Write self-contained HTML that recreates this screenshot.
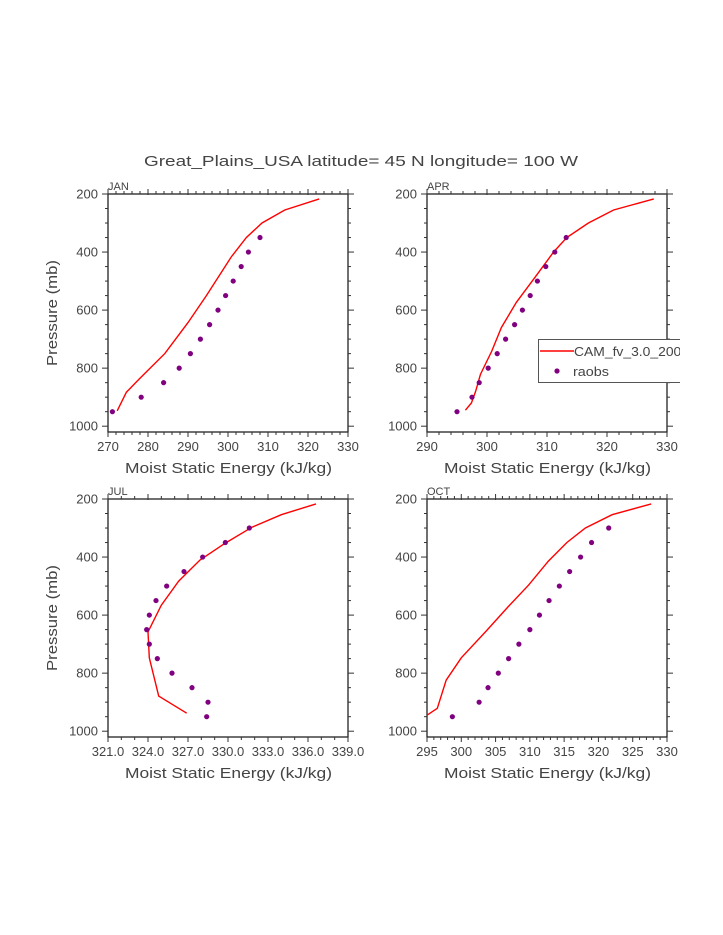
<!DOCTYPE html>
<html><head><meta charset="utf-8"><style>
html,body{margin:0;padding:0;background:#fff;}
svg{display:block;font-family:"Liberation Sans",sans-serif;}
</style></head><body>
<svg id="chart" width="723" height="935" viewBox="0 0 723 935" xmlns="http://www.w3.org/2000/svg">
<text x="144" y="166" font-size="15" fill="#444" textLength="434" lengthAdjust="spacingAndGlyphs">Great_Plains_USA  latitude= 45 N longitude= 100 W</text>
</svg>
<script>
// ---- data ----
const janObsP = [950,900,850,800,750,700,650,600,550,500,450,400,350];
const janObsX = [271.1,278.3,283.9,287.8,290.6,293.1,295.4,297.5,299.4,301.3,303.3,305.1,308.0];
const janModP = [947,883,836,750,643,550,417,350,300,255,217];
const janModX = [272.3,274.6,277.9,284.2,290.0,294.6,300.8,304.6,308.5,314.2,322.8];

const aprObsP = [950,900,850,800,750,700,650,600,550,500,450,400,350];
const aprObsX = [295.0,297.5,298.7,300.2,301.7,303.1,304.6,305.9,307.2,308.4,309.8,311.3,313.2];
const aprModP = [945,920,880,822,741,660,573,487,400,350,300,255,217];
const aprModX = [296.4,297.4,298.1,298.9,300.8,302.4,304.9,308.0,311.1,313.3,316.9,321.1,327.8];

const julObsP = [300,350,400,450,500,550,600,650,700,750,800,850,900,950];
const julObsX = [331.6,329.8,328.1,326.7,325.4,324.6,324.1,323.9,324.1,324.7,325.8,327.3,328.5,328.4];
const julModP = [938,879,747,658,566,483,410,352,297,254,217];
const julModX = [326.9,324.8,324.1,324.0,325.0,326.3,327.9,329.8,331.8,334.0,336.6];

const octObsP = [950,900,850,800,750,700,650,600,550,500,450,400,350,300];
const octObsX = [298.7,302.6,303.9,305.4,306.9,308.4,310.0,311.4,312.8,314.3,315.8,317.4,319.0,321.5];
const octModP = [945,921,824,747,653,572,497,414,350,300,254,217];
const octModX = [295.0,296.5,297.8,300.0,303.7,306.8,309.8,312.7,315.4,318.1,322.0,327.7];

const janTicks = [270,280,290,300,310,320,330];
const aprTicks = [290,300,310,320,330];
const julTicks = ["321.0","324.0","327.0","330.0","333.0","336.0","339.0"];
const octTicks = [295,300,305,310,315,320,325,330];
const pTicks = [200,400,600,800,1000];

const NS = "http://www.w3.org/2000/svg";
const svg = document.getElementById("chart");
function mk(tag, attrs, parent){
  const e = document.createElementNS(NS, tag);
  for (const k in attrs) e.setAttribute(k, attrs[k]);
  (parent||svg).appendChild(e);
  return e;
}

function panel(cfg){
  const g = mk("g", {});
  
  
  const L=cfg.left, R=cfg.left+240, T=cfg.top, B=cfg.top+238;
  const xs = v => L + (v - cfg.xmin) / (cfg.xmax - cfg.xmin) * 240;
  const ys = p => T + (p - 200) / 820 * 238;
  const fr = mk("rect", {x:L, y:T, width:240, height:238, fill:"none", stroke:"#222", "stroke-width":1.3}, g);
  
  
  for (let v = cfg.xmin; v <= cfg.xmax + 1e-6; v += cfg.minor){
    const x = xs(v);
    const isMaj = Math.abs(((v - cfg.xmin) / cfg.major) - Math.round((v - cfg.xmin) / cfg.major)) < 1e-6;
    const len = isMaj ? 5 : 3;
    mk("line", {x1:x, x2:x, y1:T-len, y2:T+(isMaj?1:0), stroke:"#333", "stroke-width":1}, g);
    mk("line", {x1:x, x2:x, y1:B, y2:B+len, stroke:"#333", "stroke-width":1}, g);
  }
  for (let p = 200; p <= 1000; p += 50){
    const y = ys(p);
    const isMaj = p % 200 === 0;
    const len = isMaj ? 6 : 3;
    mk("line", {x1:L-len, x2:L, y1:y, y2:y, stroke:"#333", "stroke-width":1}, g);
    mk("line", {x1:R, x2:R+len, y1:y, y2:y, stroke:"#333", "stroke-width":1}, g);
  }
  pTicks.forEach(p => {
    const t = mk("text", {x:L-10, y:ys(p)+4.5, "font-size":13, fill:"#444", "text-anchor":"end"}, g);
    t.textContent = p;
    
    
  });
  cfg.ticks.forEach((lab, i) => {
    const v = cfg.xmin + i * cfg.major;
    const t = mk("text", {x:xs(v), y:B+19, "font-size":13, fill:"#444", "text-anchor":"middle"}, g);
    t.textContent = lab;
    
    
  });
  const xt = mk("text", {x:L+17, y:B+41, "font-size":15, fill:"#444", textLength:207, lengthAdjust:"spacingAndGlyphs"}, g);
  xt.textContent = "Moist Static Energy (kJ/kg)";
  
  
  if (cfg.ylabel){
    const yt = mk("text", {x:0, y:0, "font-size":15, fill:"#444", "text-anchor":"middle", textLength:106, lengthAdjust:"spacingAndGlyphs", transform:`translate(${L-51},${T+119}) rotate(-90)`}, g);
    yt.textContent = "Pressure (mb)";
    
    
  }
  const pt = mk("text", {x:L, y:T-4, "font-size":11, fill:"#444"}, g);
  pt.textContent = cfg.title;
  
  
  const cid = "clip-" + cfg.name;
  const cp = mk("clipPath", {id:cid}, g);
  mk("rect", {x:L, y:T, width:240, height:238}, cp);
  const pts = cfg.modX.map((v,i) => xs(v).toFixed(1) + "," + ys(cfg.modP[i]).toFixed(1)).join(" ");
  const line = mk("polyline", {points:pts, fill:"none", stroke:"#ff0000", "stroke-width":1.4, "clip-path":`url(#${cid})`}, g);
  
  
  cfg.obsX.forEach((v,i) => {
    const c = mk("circle", {cx:xs(v), cy:ys(cfg.obsP[i]), r:2.6, fill:"#800080"}, g);
    
    
  });
}

panel({name:"jan", title:"JAN", left:108, top:194, xmin:270, xmax:330, major:10, minor:2, ticks:janTicks, modX:janModX, modP:janModP, obsX:janObsX, obsP:janObsP, ylabel:true});
panel({name:"apr", title:"APR", left:427, top:194, xmin:290, xmax:330, major:10, minor:2, ticks:aprTicks, modX:aprModX, modP:aprModP, obsX:aprObsX, obsP:aprObsP, ylabel:false});
panel({name:"jul", title:"JUL", left:108, top:499, xmin:321, xmax:339, major:3, minor:1, ticks:julTicks, modX:julModX, modP:julModP, obsX:julObsX, obsP:julObsP, ylabel:true});
panel({name:"oct", title:"OCT", left:427, top:499, xmin:295, xmax:330, major:5, minor:1, ticks:octTicks, modX:octModX, modP:octModP, obsX:octObsX, obsP:octObsP, ylabel:false});

const lg = mk("g", {});


const lcp = mk("clipPath", {id:"legclip"}, lg);
mk("rect", {x:530, y:330, width:150, height:60}, lcp);
const lgi = mk("g", {"clip-path":"url(#legclip)"}, lg);
mk("rect", {x:538.5, y:339.5, width:160, height:43, fill:"#fff", stroke:"#555", "stroke-width":1}, lgi);
const l1 = mk("line", {x1:540, x2:574, y1:351, y2:351, stroke:"#ff0000", "stroke-width":1.4}, lgi);


const t1 = mk("text", {x:574, y:356, "font-size":13, fill:"#444", textLength:115, lengthAdjust:"spacingAndGlyphs"}, lgi);
t1.textContent = "CAM_fv_3.0_2000";


const d2 = mk("circle", {cx:557, cy:371, r:2.6, fill:"#800080"}, lgi);


const t2 = mk("text", {x:573, y:376, "font-size":13, fill:"#444", textLength:36, lengthAdjust:"spacingAndGlyphs"}, lgi);
t2.textContent = "raobs";


</script>
</body></html>
